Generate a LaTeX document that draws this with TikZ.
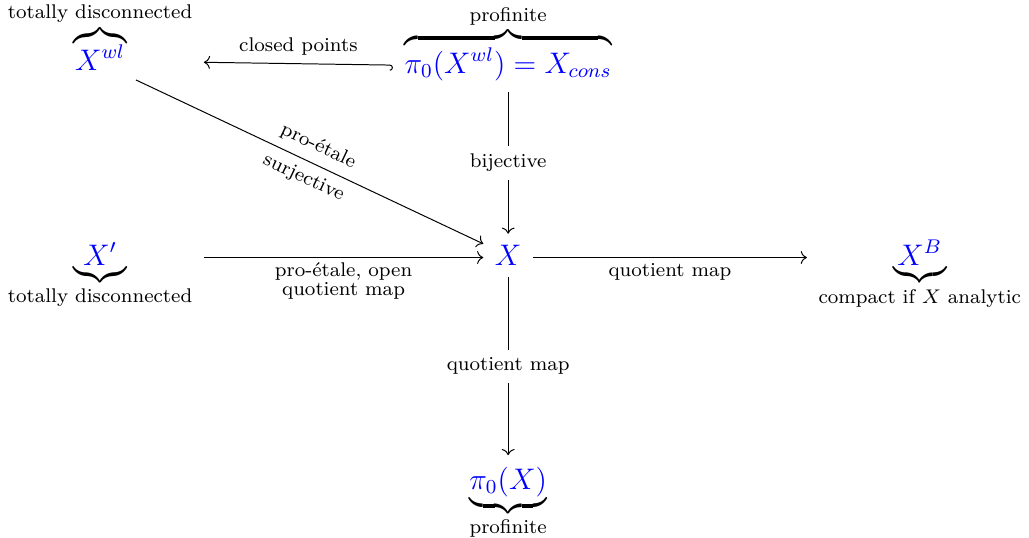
\documentclass[tikz,border=0pt]{standalone}
\usepackage{amsmath}
\usetikzlibrary{arrows.meta}

\tikzset{
  obj/.style={inner sep=4.5pt, font=\large, anchor=base},
  lab/.style={font=\footnotesize},
}
\newcommand{\bl}[1]{\textcolor{blue}{#1}}

\begin{document}
\begin{tikzpicture}[>=To]
\useasboundingbox (0,0) rectangle (14.6,7.63);
\node[obj] (wl) at (1.42,6.63) {$\overbrace{\bl{X^{wl}}}^{\text{totally disconnected}}$};
\node[obj] (cons) at (7.21,6.59) {$\overbrace{\bl{\pi_0(X^{wl}) = X_{cons}}}^{\text{profinite}}$};
\node[obj] (x) at (7.21,3.86) {$\bl{X}$};
\node[obj] (xp) at (1.42,3.86) {$\underbrace{\bl{X'}}_{\text{totally disconnected}}$};
\node[obj] (xb) at (13.05,3.86) {$\underbrace{\bl{X^B}}_{\text{compact if $X$ analytic}}$};
\node[obj] (pi) at (7.21,0.69) {$\underbrace{\bl{\pi_0(X)}}_{\text{profinite}}$};

\draw[{Hooks[right]}->] ([yshift=3.3pt]cons.base west) -- node[lab,above]{closed points} ([yshift=3.3pt]wl.base east);
\draw[->] (cons) -- node[lab,fill=white]{bijective} (x);
\draw[->,shorten <=16pt] ([yshift=3pt]wl.base) -- node[lab,above,sloped,pos=0.55]{pro-\'etale} node[lab,below,sloped,pos=0.55]{surjective} (x);
\draw[->] ([yshift=3.3pt]xp.base east) -- node[lab,below,inner sep=2pt,align=center]{pro-\'etale, open\\[-2pt]quotient map} ([yshift=3.3pt]x.base west);
\draw[->] ([yshift=3.3pt]x.base east) -- node[lab,below,inner sep=2pt]{quotient map} ([yshift=3.3pt]xb.base west);
\draw[->] (x) -- node[lab,fill=white]{quotient map} (pi);
\end{tikzpicture}
\end{document}
